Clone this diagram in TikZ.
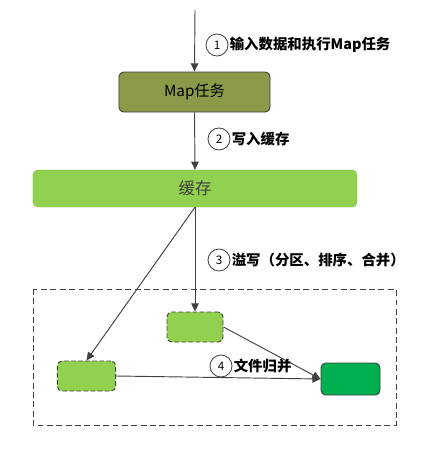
\documentclass[tikz,border=0pt]{standalone}
\usepackage{fontspec}
\setmainfont{Noto Sans CJK SC}
\usetikzlibrary{arrows.meta}
\definecolor{mapolive}{HTML}{8A9A48}
\definecolor{cachegreen}{HTML}{92D050}
\definecolor{mergegreen}{HTML}{00B050}
\definecolor{linegray}{HTML}{404040}

\begin{document}
\begin{tikzpicture}[x=0.03cm,y=-0.03cm,
    box/.style={draw=linegray,rounded corners=4pt,line width=0.8pt,inner sep=0pt},
    spill/.style={box,fill=cachegreen,dash pattern=on 4pt off 2pt,minimum width=1.75cm,minimum height=0.9cm},
    stepnum/.style={circle,draw=linegray,line width=0.7pt,fill=white,minimum size=0.66cm,inner sep=0pt,font=\normalsize},
    steptext/.style={anchor=west,inner sep=1pt,font=\fontsize{12.3}{14}\selectfont\bfseries},
    flow/.style={draw=linegray,line width=0.8pt,-{Triangle[length=7pt,width=6.5pt]}}]
  \useasboundingbox (0,0) rectangle (435,449);
  % boxes
  \node[box,fill=mapolive,minimum width=4.53cm,minimum height=1.2cm,font=\fontsize{13}{15}\selectfont] (map) at (194.5,92) {Map任务};
  \node[box,draw=cachegreen!90!black,line width=0.3pt,fill=cachegreen,minimum width=9.72cm,minimum height=1.11cm,font=\fontsize{14}{16}\selectfont,text=linegray] (cache) at (195,188.5) {缓存};
  \node[spill,minimum width=1.68cm] (spillmid) at (195,327) {};
  \node[spill] (spillleft) at (86.5,376) {};
  \node[box,fill=mergegreen,minimum width=1.77cm,minimum height=0.96cm] (merged) at (350.5,379) {};
  \draw[linegray,line width=0.7pt,dash pattern=on 5pt off 3pt] (33,289) rectangle (396,425);
  % connectors
  \coordinate (input) at (195,10);
  \draw[flow] (input) -- (map.north);
  \draw[flow] (map.south) -- (cache.north);
  \draw[flow] (cache.south) -- (spillmid.north);
  \draw[flow] (cache.south) -- (spillleft.north);
  \draw[flow] (spillmid.east) -- (merged.west);
  \draw[flow] (spillleft.east) -- (merged.west);
  % step labels
  \node[stepnum] (s1) at (217,45) {1};
  \node[steptext] (t1) at (s1.east) {输入数据和执行Map任务};
  \node[stepnum] (s2) at (219,139) {2};
  \node[steptext] (t2) at (s2.east) {写入缓存};
  \node[stepnum] (s3) at (219,260) {3};
  \node[steptext] (t3) at (s3.east) {溢写（分区、排序、合并）};
  \node[stepnum] (s4) at (221,366) {4};
  \node[steptext] (t4) at (s4.east) {文件归并};
\end{tikzpicture}
\end{document}
